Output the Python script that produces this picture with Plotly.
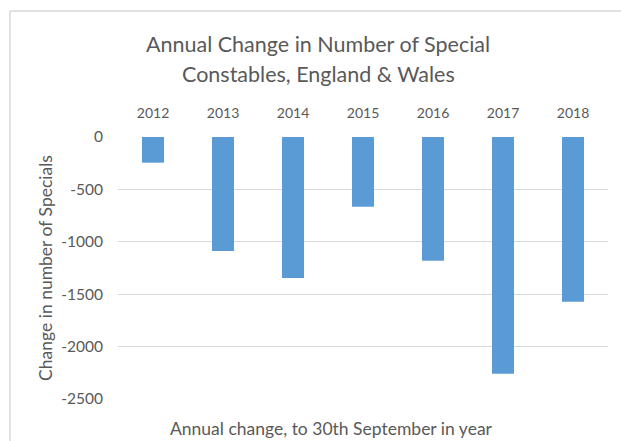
import plotly.graph_objects as go

years = ["2012", "2013", "2014", "2015", "2016", "2017", "2018"]
changes = [-245, -1088, -1345, -665, -1180, -2260, -1571]
y_ticks = [0, -500, -1000, -1500, -2000, -2500]
y_tick_labels = ["0", "-500", "-1000", "-1500", "-2000", "-2500"]

title_lines = ["Annual Change in Number of Special", "Constables, England & Wales"]
x_title = "Annual change, to 30th September in year"
y_title = "Change in number of Specials"

FONT = "Lato"
GRAY = "#595959"
GRID = "#d9d9d9"

fig = go.Figure(go.Bar(x=years, y=changes, marker_color="#5b9bd5",
                       marker_line_width=0))

W, H = 621, 441
L, R, T, B = 118, 13, 137, 42
pw, ph = W - L - R, H - T - B

def px(x):
    return (x - L) / pw

def py(y):
    return (H - B - y) / ph

annotations = [
    dict(text=x_title, xref="paper", yref="paper", x=px(331), y=py(428),
         xanchor="center", yanchor="middle", showarrow=False,
         font=dict(size=17.5, color=GRAY)),
]
for i, line in enumerate(title_lines):
    annotations.append(dict(text=line, xref="paper", yref="paper", x=px(318),
                            y=py(44 + 30 * i), xanchor="center", yanchor="middle",
                            showarrow=False, font=dict(size=21.5, color=GRAY)))

fig.update_layout(
    width=W, height=H,
    margin=dict(l=L, r=R, t=T, b=B, pad=0),
    paper_bgcolor="white", plot_bgcolor="white",
    bargap=0.686,
    showlegend=False,
    font=dict(family=FONT, color=GRAY),
    xaxis=dict(side="top", type="category", showgrid=False, showline=False,
               ticks="", tickfont=dict(size=14, color=GRAY), ticklabelstandoff=15,
               zeroline=False),
    yaxis=dict(range=[-2500, 0], tickvals=y_ticks, ticktext=y_tick_labels,
               showgrid=True, gridcolor=GRID, gridwidth=1, zeroline=False,
               showline=False, ticks="", tickfont=dict(size=15.5, color=GRAY),
               ticklabelstandoff=14,
               title=dict(text=y_title, font=dict(size=17.5, color=GRAY), standoff=4)),
    shapes=[
        dict(type="line", xref="paper", yref="paper", x0=px(10), x1=px(630),
             y0=py(11), y1=py(11), line=dict(color=GRID, width=1.5)),
        dict(type="line", xref="paper", yref="paper", x0=px(10), x1=px(10),
             y0=py(11), y1=py(450), line=dict(color=GRID, width=1.5)),
    ],
    annotations=annotations,
)

fig.write_html("out.html")
